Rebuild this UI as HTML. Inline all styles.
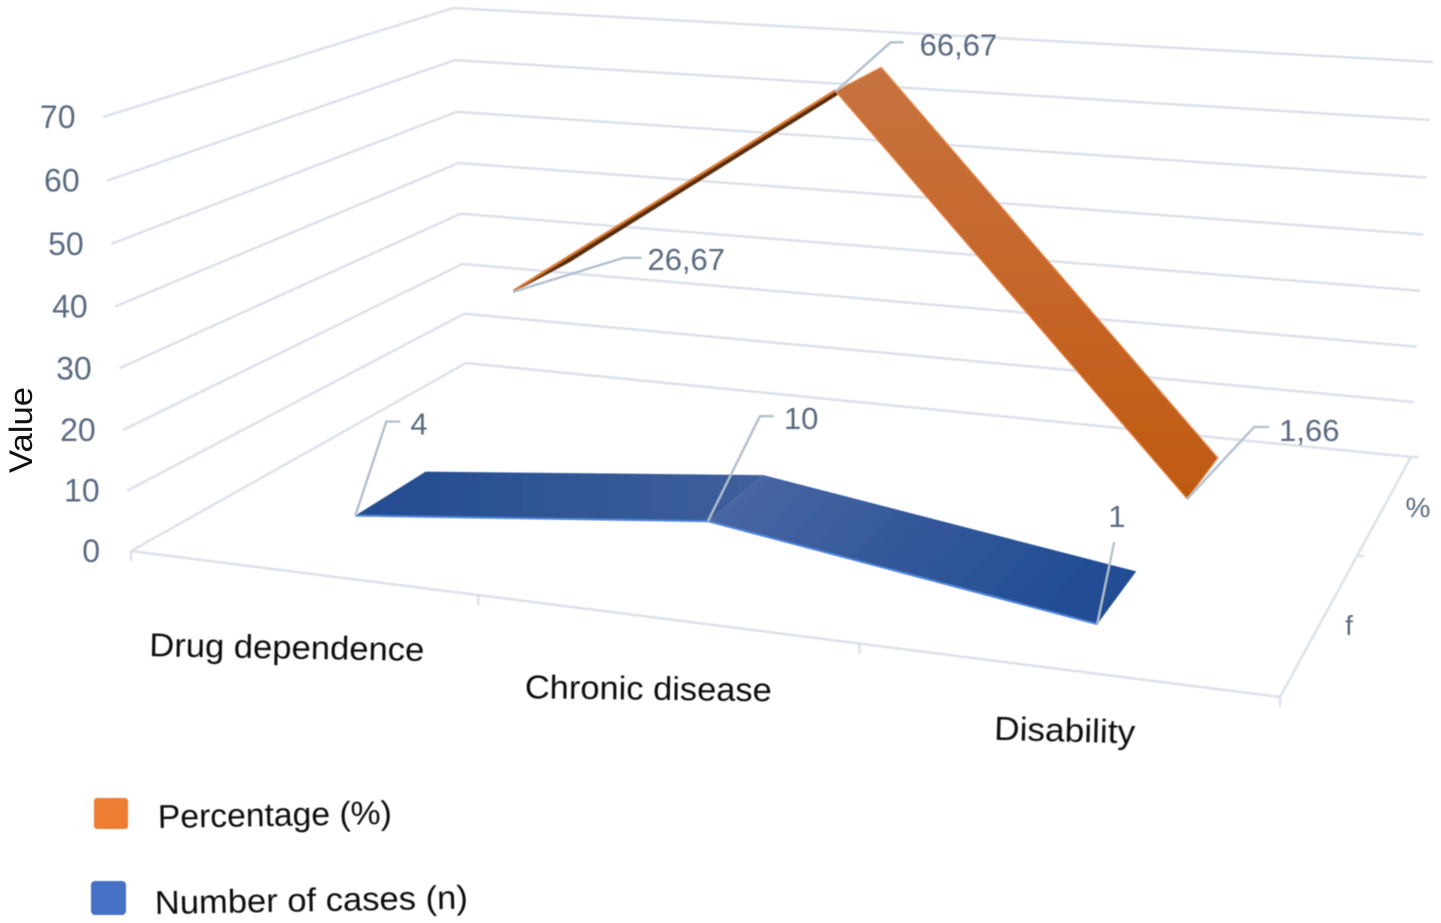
<!DOCTYPE html>
<html lang="en">
<head>
<meta charset="utf-8">
<title>3D line chart</title>
<style>
html,body{margin:0;padding:0;background:#fff;width:1441px;height:923px;overflow:hidden}
svg{display:block;font-family:"Liberation Sans",sans-serif}
</style>
</head>
<body>
<svg id="chart" width="1441" height="923" viewBox="0 0 1441 923" xmlns="http://www.w3.org/2000/svg">
  <defs>
    <linearGradient id="g-blue-1" x1="0" y1="0" x2="1" y2="0"><stop offset="0" stop-color="#234c90"/><stop offset="1" stop-color="#3f5f9b"/></linearGradient>
    <linearGradient id="g-blue-2" x1="0" y1="0" x2="1" y2="0.3"><stop offset="0" stop-color="#4c69a4"/><stop offset="0.55" stop-color="#33589a"/><stop offset="1" stop-color="#224e95"/></linearGradient>
    <linearGradient id="g-orange-2" x1="0" y1="0" x2="0" y2="1"><stop offset="0" stop-color="#c6733f"/><stop offset="0.5" stop-color="#c6662a"/><stop offset="1" stop-color="#bf5a10"/></linearGradient>
    <filter id="soft" x="-5%" y="-5%" width="110%" height="110%"><feGaussianBlur stdDeviation="0.45"/></filter>
  </defs>
  <g id="grid" filter="url(#soft)"></g>
  <g id="marks" filter="url(#soft)"></g>
  <g id="labels" filter="url(#soft)"></g>
  <text transform="translate(32,430) rotate(-90)" text-anchor="middle" font-size="32" fill="#111" textLength="86" lengthAdjust="spacingAndGlyphs">Value</text>
  <g filter="url(#soft)">
    <rect x="94" y="798" width="34" height="31" rx="3" fill="#ed7d31"/>
    <text transform="translate(158,828) rotate(-1)" font-size="33" fill="#111" textLength="234" lengthAdjust="spacingAndGlyphs">Percentage (%)</text>
    <rect x="91" y="881" width="35" height="34" rx="4" fill="#4472c4"/>
    <text transform="translate(155,914) rotate(-1)" font-size="33" fill="#111" textLength="313" lengthAdjust="spacingAndGlyphs">Number of cases (n)</text>
  </g>
</svg>
<script>
// ---- chart data ----
const categories = ['Drug dependence', 'Chronic disease', 'Disability'];
const depthNames = ['f', '%'];
const valueTicks = [0, 10, 20, 30, 40, 50, 60, 70];
const percentageValues = [26.67, 66.67, 1.66];
const casesValues = [4, 10, 1];
const percentageLabels = ['26,67', '66,67', '1,66'];
const casesLabels = ['4', '10', '1'];

// ---- axis geometry ----
const VMAX = 70;
const corners = {
  fl0: [131, 551], fr0: [1280, 697], bl0: [466, 363], br0: [1411, 457],
  fl1: [103, 117], fr1: [1290, 214], bl1: [453, 8], br1: [1433, 62]
};
const catWarp = 1.155;
const valueWarp = 1.033;
const seriesShiftX = 4;
const mix = (a, b, t) => [a[0] + (b[0] - a[0]) * t, a[1] + (b[1] - a[1]) * t];
function xAxis(u) { return u / (u + catWarp * (1 - u)); }
function yAxis(v) { const t = v / VMAX; return t / (t + valueWarp * (1 - t)); }
function catCenter(i) { return (i + 0.5) / categories.length; }
// u: position along category axis 0..1, d: floor depth fraction 0..1, v: data value
function project(u, d, v) {
  const x = xAxis(u);
  const floor = mix(mix(corners.fl0, corners.fr0, x), mix(corners.bl0, corners.br0, x), d);
  const top = mix(mix(corners.fl1, corners.fr1, x), mix(corners.bl1, corners.br1, x), d);
  return mix(floor, top, yAxis(v));
}
function seriesPoint(u, d, v) {
  const p = project(u, d, v);
  return [p[0] + seriesShiftX, p[1]];
}
const NS = 'http://www.w3.org/2000/svg';
function make(tag, parent, attrs) {
  const el = document.createElementNS(NS, tag);
  for (const k in attrs) el.setAttribute(k, attrs[k]);
  parent.appendChild(el);
  return el;
}
const pts = a => a.map(p => p[0].toFixed(1) + ',' + p[1].toFixed(1)).join(' ');

const grid = document.getElementById('grid');
const marks = document.getElementById('marks');
const labels = document.getElementById('labels');
const GRID = '#dde2ea';
const LABEL = '#5a6a80';
const LEADER = '#b4bfcd';

// ---- gridlines and value ticks ----
valueTicks.forEach(v => {
  const a = project(0, 0, v), b = project(0, 1, v), c = project(1, 1, v);
  const line = make('polyline', grid, { points: pts([a, b, c]), fill: 'none', stroke: GRID, 'stroke-width': 2.6 });
  
  
  const t = make('text', labels, { x: a[0] - (v === 0 ? 31 : 27.5), y: a[1] + 11, 'text-anchor': 'end', 'font-size': 32, fill: LABEL });
  t.textContent = v;
  
  
});

// ---- floor outline ----
const frontEdge = make('line', grid, { x1: project(0,0,0)[0], y1: project(0,0,0)[1], x2: project(1,0,0)[0], y2: project(1,0,0)[1], stroke: GRID, 'stroke-width': 2.6 });


const sideEdge = make('line', grid, { x1: project(1,0,0)[0], y1: project(1,0,0)[1], x2: project(1,1,0)[0], y2: project(1,1,0)[1], stroke: GRID, 'stroke-width': 2.6 });



// ---- category ticks and labels ----
for (let i = 0; i <= categories.length; i++) {
  const p = project(i / categories.length, 0, 0);
  const tick = make('line', grid, { x1: p[0], y1: p[1], x2: p[0], y2: p[1] + 10, stroke: GRID, 'stroke-width': 2.6 });
  
  
}
const catLabelOffsets = [[-14, 86], [-16, 81], [0, 72]];
const catLabelWidths = [275, 247, 141];
const catLabelTilt = [1, 0.7, 1.5];
categories.forEach((c, i) => {
  const p = project(catCenter(i), 0, 0);
  const x = p[0] + catLabelOffsets[i][0], y = p[1] + catLabelOffsets[i][1];
  const t = make('text', labels, { transform: 'translate(' + x + ',' + y + ') rotate(' + catLabelTilt[i] + ')', 'text-anchor': 'middle', 'font-size': 33, fill: '#111', textLength: catLabelWidths[i], lengthAdjust: 'spacingAndGlyphs' });
  t.textContent = c;
  
  
});

// ---- depth axis ticks and labels ----
const depthMid = mix(corners.fr0, corners.br0, 0.588);
const depthTick = make('line', grid, { x1: depthMid[0], y1: depthMid[1], x2: depthMid[0] + 7, y2: depthMid[1], stroke: GRID, 'stroke-width': 2.6 });


const depthEnd = make('line', grid, { x1: corners.br0[0], y1: corners.br0[1], x2: corners.br0[0] + 8, y2: corners.br0[1], stroke: GRID, 'stroke-width': 2.6 });


const depthLabelPos = [[1349, 635], [1418, 517]];
depthNames.forEach((n, i) => {
  const t = make('text', labels, { x: depthLabelPos[i][0], y: depthLabelPos[i][1], 'text-anchor': 'middle', 'font-size': 28, fill: LABEL });
  t.textContent = n;
  
  
});

// ---- ribbons ----
const casesBand = [0.17, 0.40];
const percentBand = [0.70, 0.88];
function ribbon(values, band, i) {
  const u0 = catCenter(i), u1 = catCenter(i + 1);
  return [seriesPoint(u0, band[0], values[i]), seriesPoint(u1, band[0], values[i + 1]),
          seriesPoint(u1, band[1], values[i + 1]), seriesPoint(u0, band[1], values[i])];
}
const blue1 = make('polygon', marks, { points: pts(ribbon(casesValues, casesBand, 0)), fill: 'url(#g-blue-1)' });


const blue2 = make('polygon', marks, { points: pts(ribbon(casesValues, casesBand, 1)), fill: 'url(#g-blue-2)' });


const blueEdgePts = casesValues.map((v, i) => seriesPoint(catCenter(i), casesBand[0], v));
const blueEdge = make('polyline', marks, { points: pts(blueEdgePts), fill: 'none', stroke: '#4f86dc', 'stroke-width': 2 });



const or1 = ribbon(percentageValues, percentBand, 0);
const orange1 = make('polygon', marks, { points: pts(or1), fill: '#5a2e10', stroke: '#5a2e10', 'stroke-width': 0.8 });


const orange1Edge = make('line', marks, { x1: or1[0][0], y1: or1[0][1] - 1, x2: or1[1][0], y2: or1[1][1] - 1, stroke: '#dc7a35', 'stroke-width': 2.4 });


const or2 = ribbon(percentageValues, percentBand, 1);
const orange2 = make('polygon', marks, { points: pts(or2), fill: 'url(#g-orange-2)', stroke: '#e9874a', 'stroke-width': 1.2, 'stroke-linejoin': 'round' });



// ---- leader lines and value labels ----
const percentLeaders = [[[110, -34], [128, -34]], [[55, -49], [68, -49]], [[67, -72], [82, -72]]];
const casesLeaders = [[[31, -94], [45, -94]], [[52, -105], [66, -105]], [[17, -82]]];
const percentTextAt = [[134, -22], [84, -36], [92, -58]];
const casesTextAt = [[55, -81], [76, -92], [11, -97]];
function addLeader(prefix, i, p, leg, textAt, label) {
  const path = [p].concat(leg.map(o => [p[0] + o[0], p[1] + o[1]]));
  const l = make('polyline', labels, { points: pts(path), fill: 'none', stroke: LEADER, 'stroke-width': 2.4 });
  
  
  const t = make('text', labels, { x: p[0] + textAt[0], y: p[1] + textAt[1], 'font-size': 31, fill: LABEL });
  t.textContent = label;
  
  
}
percentageValues.forEach((v, i) => addLeader('percentage', i, seriesPoint(catCenter(i), percentBand[0], v), percentLeaders[i], percentTextAt[i], percentageLabels[i]));
casesValues.forEach((v, i) => addLeader('cases', i, seriesPoint(catCenter(i), casesBand[0], v), casesLeaders[i], casesTextAt[i], casesLabels[i]));
</script>
</body>
</html>
